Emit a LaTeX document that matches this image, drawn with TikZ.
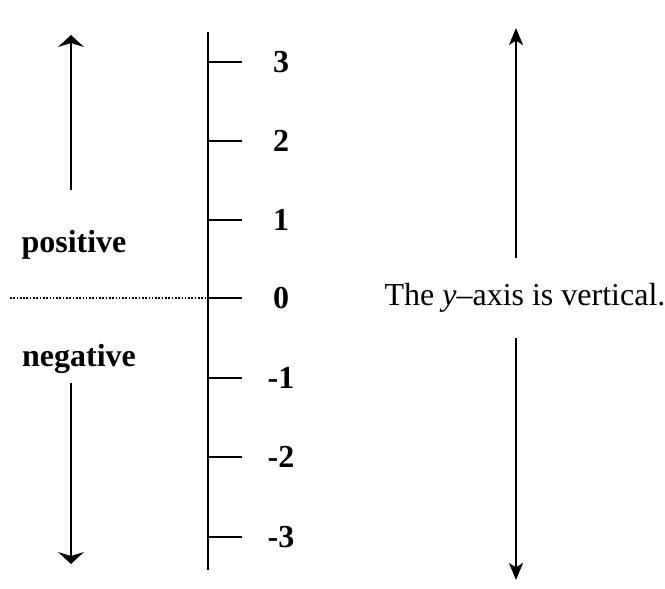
\documentclass[tikz,border=0pt]{standalone}
\usepackage{fontspec}
\setmainfont{Liberation Serif}
\usepackage{tikz}
\usetikzlibrary{arrows.meta}

\tikzset{
  lbl/.style={font=\fontsize{16}{19}\selectfont\bfseries, inner sep=1pt},
  smallarrow/.style={-{Stealth[length=6pt, width=13pt, inset=2pt]}, line width=0.8pt},
  bigarrow/.style={-{Stealth[length=8.5pt, width=7pt, inset=2.2pt]}, line width=1pt}
}

\begin{document}
\begin{tikzpicture}[x=0.5pt, y=-0.5pt, line width=1pt]
        \useasboundingbox (0,0) rectangle (665,589);

        % 坐标轴
        \coordinate (axtop) at (208,32);
        \coordinate (axbot) at (208,570);
        \draw[line width=1.35pt] (axtop) -- (axbot);

        % 刻度与数字
        \foreach \v/\y in {3/62, 2/141, 1/220, 0/298, -1/378, -2/457, -3/537} {
            \coordinate (t\v) at (208,\y);
            \draw[line width=1.35pt] (t\v) -- ++(34,0);
            \node[lbl] (n\v) at (281,\y) {\v};
        }

        % 虚线
        \coordinate (dotl) at (10,298);
        \draw[line width=1pt, dash pattern=on 0.8pt off 0.85pt] (dotl) -- (t0);

        % 左侧文字与箭头
        \node[lbl] (pos) at (74,245) {positive};
        \node[lbl] (neg) at (79,359) {negative};
        \coordinate (uptip) at (71,35);
        \coordinate (dntip) at (71,564);
        \draw[smallarrow] (71,190) -- (uptip);
        \draw[smallarrow] (71,383) -- (dntip);

        % 右侧文字与箭头
        \node[font=\fontsize{16}{19}\selectfont, inner sep=0pt] (cap) at (525,298) {The \textit{y}--axis is vertical.};
        \coordinate (rtop) at (516,28);
        \coordinate (rbot) at (516,580);
        \draw[bigarrow, shorten <=12pt] (rtop |- cap.north) -- (rtop);
        \draw[bigarrow, shorten <=12pt] (rbot |- cap.south) -- (rbot);
    \end{tikzpicture}
\end{document}
